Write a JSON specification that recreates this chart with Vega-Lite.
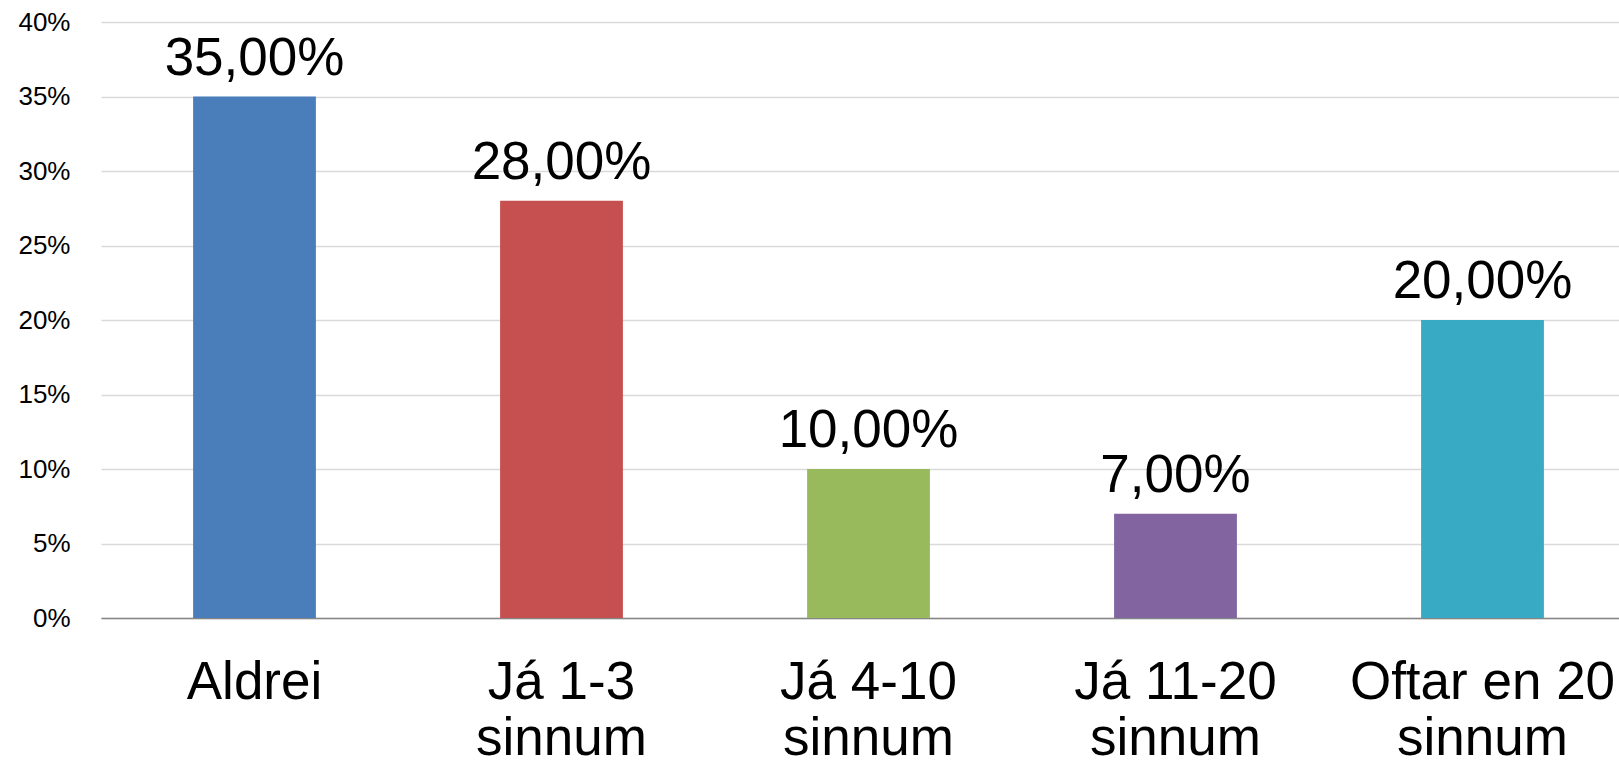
{
  "$schema": "https://vega.github.io/schema/vega-lite/v6.json",
  "width": 1535,
  "height": 596,
  "autosize": {"type": "none"},
  "padding": {"left": 101, "top": 22, "right": 0, "bottom": 149},
  "background": "white",
  "config": {
    "view": {"stroke": null},
    "font": "Liberation Sans",
    "locale": {
      "number": {"decimal": ",", "thousands": ".", "grouping": [3], "currency": ["", " kr."]}
    }
  },
  "data": {
    "values": [
      {"category": "Aldrei", "value": 0.35},
      {"category": "Já 1-3 sinnum", "value": 0.28},
      {"category": "Já 4-10 sinnum", "value": 0.10},
      {"category": "Já 11-20 sinnum", "value": 0.07},
      {"category": "Oftar en 20 sinnum", "value": 0.20}
    ]
  },
  "encoding": {
    "x": {
      "field": "category",
      "type": "nominal",
      "sort": null,
      "scale": {"paddingInner": 0.6, "paddingOuter": 0.3},
      "axis": {
        "title": null,
        "labelAngle": 0,
        "labelFontSize": 53,
        "labelColor": "black",
        "labelFont": "Liberation Sans",
        "labelPadding": 38,
        "labelLineHeight": 56,
        "labelLimit": 600,
        "labelOverlap": false,
        "labelExpr": "split(replace(datum.label, ' sinnum', '|sinnum'), '|')",
        "ticks": false,
        "domainColor": "#868686",
        "domainWidth": 1.5,
        "grid": false
      }
    },
    "y": {
      "field": "value",
      "type": "quantitative",
      "scale": {"domain": [0, 0.4], "nice": false},
      "axis": {
        "title": null,
        "format": ".0%",
        "values": [0, 0.05, 0.1, 0.15, 0.2, 0.25, 0.3, 0.35, 0.4],
        "labelFontSize": 26,
        "labelColor": "black",
        "labelFont": "Liberation Sans",
        "labelPadding": 31,
        "ticks": false,
        "domain": false,
        "grid": true,
        "gridColor": "#d9d9d9",
        "gridWidth": 1.5
      }
    }
  },
  "layer": [
    {
      "mark": {"type": "bar"},
      "encoding": {
        "color": {
          "field": "category",
          "type": "nominal",
          "sort": null,
          "scale": {
            "domain": ["Aldrei", "Já 1-3 sinnum", "Já 4-10 sinnum", "Já 11-20 sinnum", "Oftar en 20 sinnum"],
            "range": ["#4A7EBB", "#C5504F", "#98B95C", "#8264A1", "#38AAC4"]
          },
          "legend": null
        }
      }
    },
    {
      "mark": {"type": "text", "baseline": "alphabetic", "dy": -22, "fontSize": 53, "color": "black", "font": "Liberation Sans"},
      "encoding": {
        "text": {"field": "value", "type": "quantitative", "format": ".2%"}
      }
    }
  ]
}
